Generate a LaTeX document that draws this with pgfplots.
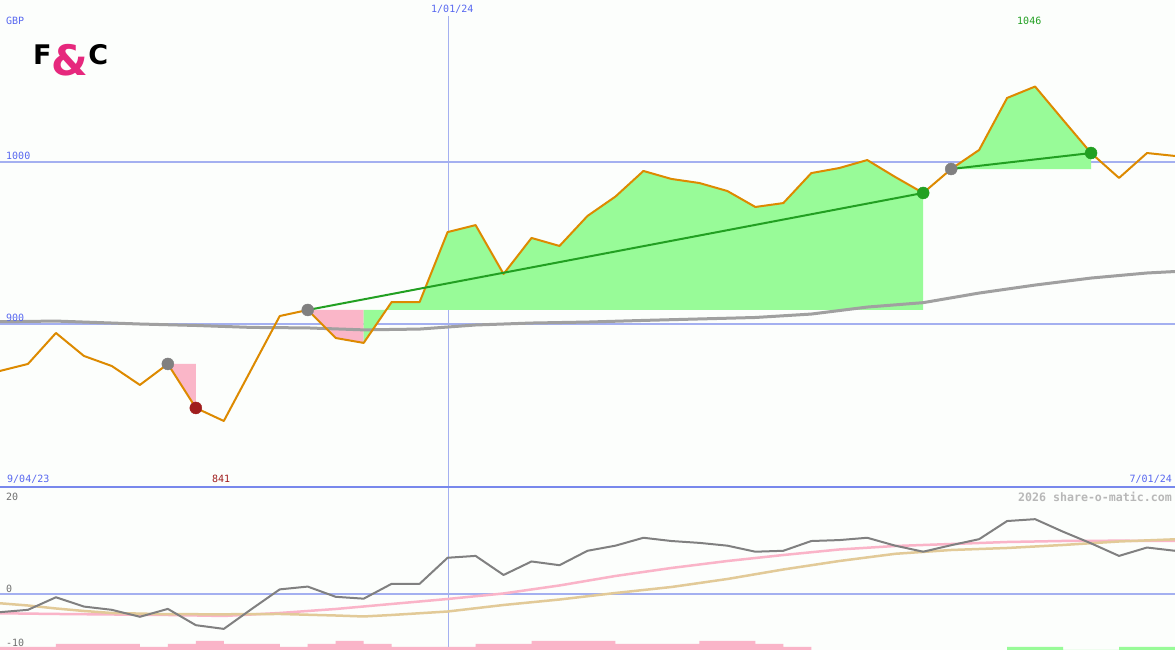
\documentclass[border=0pt]{standalone}
\usepackage{fontspec}
\setmonofont{DejaVu Sans Mono}
\newfontfamily\logofont{DejaVu Sans}
\usepackage{pgfplots}
\pgfplotsset{compat=1.18}

\definecolor{bg}{RGB}{252,254,252}
\definecolor{price}{RGB}{221,138,0}
\definecolor{ma}{RGB}{160,160,160}
\definecolor{gridb}{RGB}{164,176,240}
\definecolor{sepb}{RGB}{120,136,236}
\definecolor{lblue}{RGB}{88,104,240}
\definecolor{gainfill}{RGB}{152,251,152}
\definecolor{lossfill}{RGB}{250,182,200}
\definecolor{trend}{RGB}{34,160,34}
\definecolor{lossdot}{RGB}{160,30,30}
\definecolor{osc}{RGB}{128,128,128}
\definecolor{oscpink}{RGB}{250,180,200}
\definecolor{osctan}{RGB}{226,202,152}
\definecolor{logopink}{RGB}{230,40,125}
\definecolor{lbl}{RGB}{112,112,112}

% one x unit = one week, 42 weeks across the page
\pgfplotsset{panel/.style={hide axis, scale only axis, width=1175pt,
    xmin=0, xmax=42, anchor=south west, clip=true}}
\tikzset{lab/.style={inner sep=0pt, font=\ttfamily\fontsize{10}{12}\selectfont}}

\begin{document}
\begin{tikzpicture}[x=1pt,y=1pt]
\path[use as bounding box, fill=bg] (0,0) rectangle (1175,650);

% 1 Jan marker
\draw[gridb, line width=1pt] (448,0) -- (448,634);

% ---- price panel ----
\begin{axis}[panel, at={(0pt,163pt)}, height=487pt, ymin=800.3, ymax=1099.1]
  \draw[gridb, line width=2pt] (axis cs:0,1000) -- (axis cs:42,1000);
  \draw[gridb, line width=2pt] (axis cs:0,900) -- (axis cs:42,900);

  % trade areas
  \addplot[fill=lossfill, draw=none] coordinates {(6,875.8) (7,848.8) (7,875.8)} -- cycle;
  \addplot[fill=lossfill, draw=none] coordinates {(11,908.9) (12,891.7) (13,888.7) (13,908.9)} -- cycle;
  \addplot[fill=gainfill, draw=none] coordinates {(13,908.9) (13,888.7) (14,913.8) (15,913.8)
    (16,956.7) (17,961.0) (18,931.0) (19,953.1) (20,948.2) (21,966.6) (22,978.5) (23,994.2)
    (24,989.3) (25,986.8) (26,981.9) (27,972.1) (28,974.5) (29,992.9) (30,996.0) (31,1000.9)
    (32,990.5) (33,980.7) (33,908.9)} -- cycle;
  \addplot[fill=gainfill, draw=none] coordinates {(34,995.4) (35,1007.1) (36,1039.0)
    (37,1046.0) (38,1025.5) (39,1005.2) (39,995.4)} -- cycle;

  % long moving average
  \addplot[ma, line width=3pt] coordinates {(0,901.7) (2,902.1) (4,900.9) (5,900.3) (7,899.4)
    (9,898.2) (11,897.9) (13,896.7) (15,897.2) (17,899.7) (19,900.9) (21,901.5) (23,902.5)
    (25,903.4) (27,904.3) (29,906.4) (31,910.7) (33,913.4) (35,919.3) (37,924.2) (39,928.5)
    (41,931.6) (42,932.5)};

  % price
  \addplot[price, line width=2pt, line join=round] coordinates {(0,871.5) (1,875.8) (2,894.8)
    (3,880.7) (4,874.5) (5,862.9) (6,875.8) (7,848.8) (8,840.8) (9,873.0) (10,905.2)
    (11,908.9) (12,891.7) (13,888.7) (14,913.8) (15,913.8) (16,956.7) (17,961.0) (18,931.0)
    (19,953.1) (20,948.2) (21,966.6) (22,978.5) (23,994.2) (24,989.3) (25,986.8) (26,981.9)
    (27,972.1) (28,974.5) (29,992.9) (30,996.0) (31,1000.9) (32,990.5) (33,980.7) (34,995.4)
    (35,1007.1) (36,1039.0) (37,1046.0) (38,1025.5) (39,1005.2) (40,989.9) (41,1005.2)
    (42,1003.4)};

  % trade lines
  \addplot[trend, line width=2pt] coordinates {(11,908.9) (33,980.7)};
  \addplot[trend, line width=2pt] coordinates {(34,995.4) (39,1005.2)};

  % entries and exits
  \addplot[only marks, mark=*, mark size=6pt, gray] coordinates {(6,875.8) (11,908.9) (34,995.4)};
  \addplot[only marks, mark=*, mark size=6pt, lossdot] coordinates {(7,848.8)};
  \addplot[only marks, mark=*, mark size=6pt, trend] coordinates {(33,980.7) (39,1005.2)};
\end{axis}

% ---- oscillator panel ----
\begin{axis}[panel, at={(0pt,0pt)}, height=163pt, ymin=-11.94, ymax=23.12]
  \draw[gridb, line width=2pt] (axis cs:0,0) -- (axis cs:42,0);
  \addplot[oscpink, line width=2.5pt] coordinates {(0,-4.04) (2,-4.19) (4,-4.30) (6,-4.41)
    (8,-4.62) (10,-3.98) (12,-3.12) (14,-2.04) (16,-0.97) (18,0.22) (20,1.94) (22,3.98)
    (24,5.70) (26,7.20) (28,8.49) (30,9.68) (32,10.43) (34,10.86) (36,11.29) (38,11.51)
    (40,11.57) (42,11.51)};
  \addplot[osctan, line width=2.5pt] coordinates {(0,-1.89) (1,-2.37) (2,-3.01) (3,-3.55)
    (4,-3.98) (6,-4.24) (8,-4.26) (10,-4.19) (12,-4.52) (13,-4.73) (14,-4.41) (16,-3.66)
    (18,-2.26) (20,-1.08) (22,0.32) (24,1.61) (26,3.33) (28,5.38) (30,7.20) (32,8.75)
    (34,9.57) (36,10.0) (38,10.65) (40,11.40) (42,11.87)};
  \addplot[osc, line width=2pt, line join=round] coordinates {(0,-3.8) (1,-3.3) (2,-0.6)
    (3,-2.6) (4,-3.3) (5,-4.8) (6,-3.1) (7,-6.6) (8,-7.4) (9,-3.1) (10,1.1) (11,1.7)
    (12,-0.5) (13,-0.9) (14,2.3) (15,2.3) (16,7.9) (17,8.3) (18,4.2) (19,7.1) (20,6.3)
    (21,9.4) (22,10.5) (23,12.2) (24,11.5) (25,11.1) (26,10.5) (27,9.2) (28,9.4) (29,11.5)
    (30,11.7) (31,12.2) (32,10.5) (33,9.2) (34,10.6) (35,11.9) (36,15.8) (37,16.2) (38,13.5)
    (39,11.0) (40,8.3) (41,10.1) (42,9.4)};
\end{axis}

% ---- histogram strip ----
\begin{axis}[panel, at={(0pt,0pt)}, height=163pt, ymin=0, ymax=163]
  \addplot[ybar interval, fill=oscpink, draw=none] coordinates {(0,3) (2,6) (5,3) (6,6)
    (7,9) (8,6) (10,3) (11,6) (12,9) (13,6) (14,3) (17,6) (19,9) (22,6) (25,9) (27,6)
    (28,3) (29,0)};
  \addplot[ybar interval, fill=gainfill, draw=none] coordinates {(36,3) (38,0) (40,3) (42,0)};
\end{axis}

\draw[sepb, line width=2pt] (0,163.2) -- (1175,163.2);

% labels
\node[lab, anchor=west, text=lblue] at (6,629) {GBP};
\node[lab, anchor=west, text=lblue] at (6,494) {1000};
\node[lab, anchor=west, text=lblue] at (6,332) {900};
\node[lab, anchor=west, text=lblue] at (431,641) {1/01/24};
\node[lab, anchor=west, text=trend] at (1017,629) {1046};
\node[lab, anchor=west, text=lblue] at (7,171) {9/04/23};
\node[lab, anchor=west, text=lossdot] at (212,171) {841};
\node[lab, anchor=east, text=lblue] at (1172,171) {7/01/24};
\node[lab, anchor=west, text=lbl] at (6,153.5) {20};
\node[lab, anchor=west, text=lbl] at (6,61) {0};
\node[lab, anchor=west, text=lbl] at (6,7.5) {-10};
\node[inner sep=0pt, anchor=east, text=black!28,
  font=\ttfamily\bfseries\fontsize{11.6}{13}\selectfont] at (1172,153.5) {2026 share-o-matic.com};

% logo
\node[inner sep=0pt, anchor=base west, text=black,
  font=\logofont\bfseries\fontsize{27}{27}\selectfont] at (33,585)
  {F\raisebox{-11pt}{\color{logopink}\fontsize{42}{42}\selectfont\&}C};
\end{tikzpicture}
\end{document}
